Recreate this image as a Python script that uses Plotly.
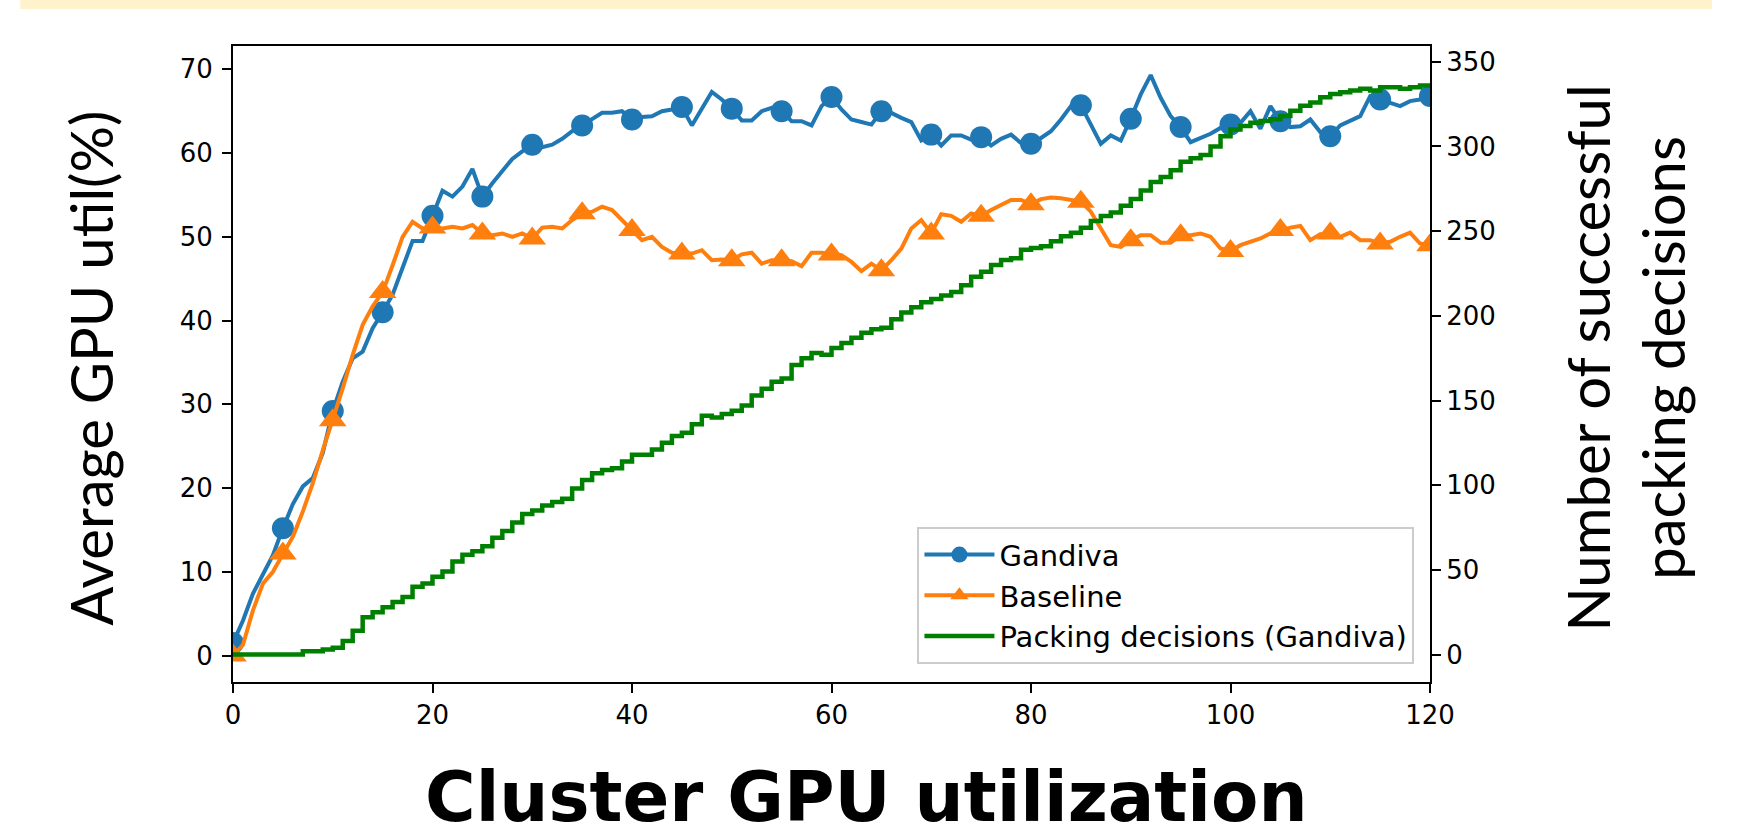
import plotly.graph_objects as go

# ---------------- data ----------------
x_util = list(range(0, 121))

gandiva = [1.5, 4.2, 7.4, 9.8, 12.0, 15.2, 18.1, 20.2, 21.2, 24.2,
           29.2, 32.7, 35.5, 36.3, 39.1, 41.0, 43.1, 46.3, 49.5, 49.5,
           52.5, 55.5, 54.8, 56.0, 58.1, 54.8, 56.4, 57.9, 59.3, 60.2,
           61.0, 60.7, 61.0, 61.7, 62.6, 63.3, 64.1, 64.8, 64.8, 65.0,
           64.0, 64.3, 64.4, 65.0, 65.2, 65.5, 63.3, 65.2, 67.3, 66.4,
           65.3, 63.9, 63.9, 65.0, 65.4, 65.0, 63.8, 63.8, 63.3, 65.6,
           66.7, 65.2, 64.0, 63.7, 63.4, 65.0, 64.8, 64.2, 63.7, 61.5,
           62.2, 60.9, 62.1, 62.1, 61.6, 61.9, 60.9, 61.7, 62.2, 61.2,
           61.1, 61.8, 62.6, 64.0, 65.6, 65.7, 63.4, 61.1, 62.1, 61.5,
           64.1, 67.0, 69.3, 66.6, 64.4, 63.1, 61.3, 61.8, 62.3, 63.0,
           63.4, 63.6, 65.0, 62.9, 65.6, 63.8, 63.1, 63.2, 64.0, 62.5,
           62.0, 63.3, 63.8, 64.4, 66.8, 66.4, 65.9, 65.6, 66.2, 66.4,
           66.8]

baseline = [0.0, 1.3, 5.4, 8.6, 10.0, 12.2, 14.2, 17.2, 20.6, 24.5,
            28.1, 31.9, 35.9, 39.5, 41.7, 43.4, 46.6, 50.0, 51.8, 51.0,
            51.1, 51.0, 51.2, 51.0, 51.4, 50.4, 50.2, 50.4, 50.0, 50.4,
            49.8, 51.1, 51.2, 51.0, 52.0, 52.8, 53.0, 53.6, 53.2, 52.0,
            50.8, 49.6, 50.0, 48.8, 48.1, 48.0, 48.0, 48.4, 47.2, 47.3,
            47.2, 47.9, 48.1, 46.8, 47.2, 47.2, 47.1, 46.5, 48.1, 48.1,
            47.9, 47.8, 47.0, 45.9, 46.8, 46.0, 47.2, 48.6, 51.0, 52.0,
            50.4, 52.7, 52.5, 51.8, 52.8, 52.5, 53.2, 53.8, 54.4, 54.4,
            53.9, 54.5, 54.7, 54.6, 54.4, 54.2, 53.0, 51.0, 49.0, 48.8,
            49.6, 50.2, 50.2, 49.3, 49.3, 50.2, 50.2, 50.4, 50.0, 48.6,
            48.3, 49.0, 49.4, 49.8, 50.4, 50.8, 51.1, 51.3, 49.6, 50.3,
            50.4, 50.0, 50.5, 49.6, 49.6, 49.2, 49.4, 50.0, 50.5, 49.2,
            49.0]

packing = [0, 0, 0, 0, 0, 0, 0, 2, 2, 3,
           4, 8, 14, 22, 25, 28, 31, 34, 40, 42,
           46, 49, 55, 59, 61, 64, 69, 73, 78, 83,
           85, 88, 90, 92, 98, 103, 107, 109, 110, 114,
           118, 118, 121, 125, 129, 131, 136, 141, 140, 142,
           144, 147, 153, 157, 161, 163, 171, 175, 178, 177,
           181, 184, 187, 190, 192, 193, 198, 202, 205, 208,
           210, 212, 214, 218, 223, 226, 230, 233, 234, 239,
           240, 241, 244, 247, 249, 252, 256, 259, 261, 265,
           269, 274, 279, 282, 286, 291, 293, 295, 300, 306,
           310, 312, 314, 315, 316, 318, 321, 324, 326, 329,
           331, 332, 333, 334, 333, 335, 335, 334, 335, 336,
           336]

x_ticks = [0, 20, 40, 60, 80, 100, 120]
y_ticks = [0, 10, 20, 30, 40, 50, 60, 70]
y2_ticks = [0, 50, 100, 150, 200, 250, 300, 350]

series_names = ["Gandiva", "Baseline", "Packing decisions (Gandiva)"]
mark_every = 5

# ---------------- style ----------------
BLUE = "#1f77b4"
ORANGE = "#ff7f0e"
GREEN = "#008000"
TICK_FONT = dict(family="DejaVu Sans", size=26, color="black")
LEGEND_FONT = dict(family="DejaVu Sans", size=29, color="black")
TITLE_FONT = dict(family="Lato", size=58, color="black")

fig = go.Figure()

# Gandiva line + markers
fig.add_trace(go.Scatter(x=x_util, y=gandiva, mode="lines",
                         line=dict(color=BLUE, width=4), showlegend=False,
                         hoverinfo="skip"))
fig.add_trace(go.Scatter(x=x_util[::mark_every], y=gandiva[::mark_every], mode="markers",
                         marker=dict(color=BLUE, size=22, symbol="circle"),
                         showlegend=False))
# Baseline line + markers
fig.add_trace(go.Scatter(x=x_util, y=baseline, mode="lines",
                         line=dict(color=ORANGE, width=4), showlegend=False,
                         hoverinfo="skip"))
fig.add_trace(go.Scatter(x=x_util[::mark_every], y=baseline[::mark_every], mode="markers",
                         marker=dict(color=ORANGE, size=24, symbol="triangle-up"),
                         showlegend=False))
# Packing decisions on the right axis
fig.add_trace(go.Scatter(x=x_util, y=packing, mode="lines", yaxis="y2",
                         line=dict(color=GREEN, width=4.5, shape="hv"),
                         showlegend=False))

# legend entries
fig.add_trace(go.Scatter(x=[None], y=[None], mode="lines+markers", name=series_names[0],
                         legendgroup="a",
                         line=dict(color=BLUE, width=4),
                         marker=dict(color=BLUE, size=16, symbol="circle")))
fig.add_trace(go.Scatter(x=[None], y=[None], mode="lines+markers", name=series_names[1],
                         legendgroup="b",
                         line=dict(color=ORANGE, width=4),
                         marker=dict(color=ORANGE, size=16, symbol="triangle-up")))
fig.add_trace(go.Scatter(x=[None], y=[None], mode="lines", name=series_names[2],
                         legendgroup="c", yaxis="y2",
                         line=dict(color=GREEN, width=4.5)))

axis_common = dict(showline=True, linecolor="black", linewidth=2,
                   ticks="outside", ticklen=9, tickwidth=2, tickcolor="black",
                   tickfont=TICK_FONT, showgrid=False, zeroline=False)

fig.update_layout(
    width=1764, height=836,
    margin=dict(l=233, r=334, t=46, b=154),
    paper_bgcolor="white", plot_bgcolor="white",
    xaxis=dict(range=[0, 120], tickvals=x_ticks, mirror=True, **axis_common),
    yaxis=dict(range=[-3.15, 72.78], tickvals=y_ticks, ticklabelstandoff=4,
               **axis_common),
    yaxis2=dict(range=[-16.2, 359.3], tickvals=y2_ticks, overlaying="y",
                side="right", **axis_common),
    legend=dict(x=0.987, y=0.028, xanchor="right", yanchor="bottom",
                bgcolor="white", bordercolor="#cccccc", borderwidth=2,
                font=LEGEND_FONT, itemwidth=70, tracegroupgap=7,
                traceorder="normal"),
    shapes=[dict(type="rect", xref="paper", yref="paper",
                 x0=-0.1777, x1=1.2355, y0=1.0582, y1=1.08,
                 fillcolor="#FFF2CC", line=dict(width=0), layer="below")],
    annotations=[
        dict(text="Average GPU util(%)", xref="paper", yref="paper",
             x=-0.119, y=0.4935, xanchor="center", yanchor="middle",
             textangle=-90, showarrow=False, font=TITLE_FONT),
        dict(text="Number of successful<br>packing decisions", xref="paper", yref="paper",
             x=1.163, y=0.509, xanchor="center", yanchor="middle",
             textangle=-90, showarrow=False, font=TITLE_FONT),
        dict(text="<b>Cluster GPU utilization</b>", xref="paper", yref="paper",
             x=0.529, y=-0.181, xanchor="center", yanchor="middle",
             showarrow=False,
             font=dict(family="DejaVu Sans", size=69, color="black")),
    ],
)

fig.write_html("out.html", config={"displayModeBar": False},
               post_script="document.body.style.margin='0';")
